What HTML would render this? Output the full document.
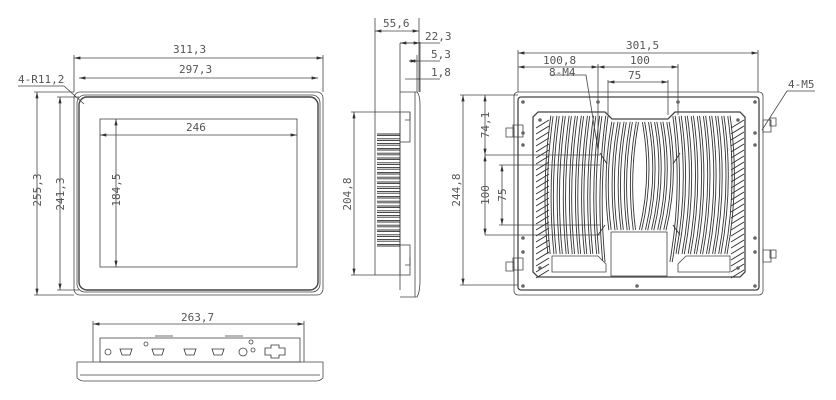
<!DOCTYPE html>
<html><head><meta charset="utf-8"><style>
html,body{margin:0;padding:0;background:#fff;}
svg{display:block;}
text{font-family:"DejaVu Sans Mono","Liberation Mono",monospace;font-size:11px;fill:#555;}
</style></head><body>
<svg id="s" width="836" height="400" viewBox="0 0 836 400" xmlns="http://www.w3.org/2000/svg">
<defs>
<marker id="a" viewBox="0 0 8 4" refX="8" refY="2" markerWidth="8" markerHeight="4" orient="auto-start-reverse"><path d="M0,0L8,2L0,4z" fill="#333"/></marker>
</defs>
<g id="f" fill="none" stroke="#333" stroke-width="3.2"></g>
<g id="fw" fill="none" stroke="#fff" stroke-width="1.4"></g>
<g fill="none" stroke="#444" stroke-width="0.8">
<!-- FRONT VIEW -->
<rect x="74" y="92" width="249" height="203" rx="6"/>
<rect x="77" y="95" width="243" height="197" rx="8"/>
<rect x="79" y="97" width="239" height="193" rx="8" stroke-width="1.4"/>
<rect x="100" y="119" width="197" height="148"/>
<line x1="74" y1="55" x2="74" y2="92"/><line x1="323" y1="55" x2="323" y2="92"/>
<line x1="74" y1="58" x2="323" y2="58" marker-start="url(#a)" marker-end="url(#a)"/>
<line x1="79" y1="78" x2="318" y2="78" marker-start="url(#a)" marker-end="url(#a)"/>
<line x1="100" y1="135" x2="297" y2="135" marker-start="url(#a)" marker-end="url(#a)"/>
<line x1="34" y1="92" x2="74" y2="92"/><line x1="34" y1="295" x2="74" y2="295"/>
<line x1="37" y1="92" x2="37" y2="295" marker-start="url(#a)" marker-end="url(#a)"/>
<line x1="57" y1="97" x2="79" y2="97"/><line x1="57" y1="290" x2="79" y2="290"/>
<line x1="60" y1="97" x2="60" y2="290" marker-start="url(#a)" marker-end="url(#a)"/>
<line x1="116" y1="119" x2="116" y2="267" marker-start="url(#a)" marker-end="url(#a)"/>
<polyline points="18,86 64,86 84,104"/>
<!-- SIDE VIEW -->
<rect x="375" y="112" width="25" height="163"/>
<line x1="400" y1="43" x2="400" y2="290"/>
<path d="M400,92 L417,92 Q420,95 420,105 L420,280 Q420,292 417,297 L400,297"/>
<line x1="415" y1="92" x2="415" y2="297"/>
<rect x="400" y="112" width="10" height="30"/><rect x="400" y="245" width="10" height="30"/>
<path d="M405,120h5v-8M405,265h5v-8"/>
<line x1="375" y1="18" x2="375" y2="112"/><line x1="419" y1="18" x2="419" y2="92"/>
<line x1="375" y1="31" x2="419" y2="31" marker-start="url(#a)" marker-end="url(#a)"/>
<line x1="400" y1="43" x2="440" y2="43"/><line x1="400" y1="43" x2="420" y2="43" marker-start="url(#a)" marker-end="url(#a)"/>
<line x1="409" y1="61" x2="440" y2="61"/><line x1="409" y1="61" x2="417" y2="61" marker-start="url(#a)" marker-end="url(#a)"/>
<line x1="405" y1="79" x2="440" y2="79"/><line x1="417" y1="79" x2="420" y2="79"/>
<line x1="417" y1="55" x2="417" y2="92"/><line x1="420" y1="42" x2="420" y2="92"/>
<line x1="351" y1="112" x2="375" y2="112"/><line x1="351" y1="275" x2="375" y2="275"/>
<line x1="354" y1="112" x2="354" y2="275" marker-start="url(#a)" marker-end="url(#a)"/>
<!-- BACK VIEW -->
<rect x="514" y="92" width="249" height="203" rx="4"/>
<rect x="518" y="97" width="241" height="193" rx="3" stroke-width="1.3"/>
<path d="M538,112 L605,112 L612,119 L668,119 L675,112 L740,112 L745,117 L745,272 L740,277 L538,277 L533,272 L533,117 Z" stroke-width="1.3"/>
<rect x="611" y="232" width="56" height="44" fill="#fff"/>
<path d="M552,256 L598,256 L606,264 L606,272 L590,272 L552,272 Z" fill="#fff"/>
<path d="M730,256 L686,256 L678,264 L678,272 L696,272 L730,272 Z" fill="#fff"/>
<line x1="518" y1="50" x2="518" y2="92"/><line x1="758" y1="50" x2="758" y2="92"/>
<line x1="518" y1="53" x2="758" y2="53" marker-start="url(#a)" marker-end="url(#a)"/>
<line x1="518" y1="67" x2="598" y2="67" marker-start="url(#a)" marker-end="url(#a)"/>
<line x1="598" y1="67" x2="678" y2="67" marker-start="url(#a)" marker-end="url(#a)"/>
<line x1="598" y1="64" x2="598" y2="155"/><line x1="678" y1="64" x2="678" y2="115"/>
<line x1="608" y1="82" x2="668" y2="82" marker-start="url(#a)" marker-end="url(#a)"/>
<line x1="608" y1="80" x2="608" y2="115"/><line x1="668" y1="80" x2="668" y2="115"/>
<line x1="460" y1="95" x2="518" y2="95"/><line x1="460" y1="285" x2="518" y2="285"/>
<line x1="463" y1="95" x2="463" y2="285" marker-start="url(#a)" marker-end="url(#a)"/>
<line x1="485" y1="95" x2="485" y2="155" marker-start="url(#a)" marker-end="url(#a)"/>
<line x1="485" y1="155" x2="485" y2="235" marker-start="url(#a)" marker-end="url(#a)"/>
<line x1="485" y1="155" x2="600" y2="155"/><line x1="485" y1="235" x2="600" y2="235"/>
<line x1="502" y1="165" x2="502" y2="225" marker-start="url(#a)" marker-end="url(#a)"/>
<line x1="499" y1="165" x2="600" y2="165"/><line x1="499" y1="225" x2="600" y2="225"/>
<polyline points="550,75 586,75 598,150"/>
<polyline points="815,91 787,91 762,130"/>
<!-- tabs -->
<path d="M513,125 h10 v12 h-10z M506,128 h8 v9 h-8z"/>
<path d="M513,258 h10 v12 h-10z M506,262 h8 v9 h-8z"/>
<path d="M763,120 h8 v12 h-8z M770,118 h6 v8 h-6z"/>
<path d="M763,250 h8 v12 h-8z M770,250 h6 v8 h-6z"/>
<!-- BOTTOM VIEW -->
<rect x="100" y="338" width="200" height="24"/>
<path d="M77,362 L323,362 L323,378 Q320,381 316,381 L84,381 Q80,381 77,378 Z"/>
<line x1="80" y1="375" x2="320" y2="375"/>
<line x1="93" y1="321" x2="93" y2="362"/><line x1="304" y1="321" x2="304" y2="362"/>
<line x1="93" y1="324" x2="304" y2="324" marker-start="url(#a)" marker-end="url(#a)"/>
<path d="M155,336h18M225,336h18"/>
<circle cx="108" cy="352" r="3"/><circle cx="243" cy="352" r="4"/><circle cx="253" cy="350" r="2"/>
<circle cx="146" cy="344" r="2"/><circle cx="251" cy="342" r="2"/>
</g>
<g id="sf" fill="none" stroke="#333" stroke-width="0.9"></g>
<g id="h" fill="none" stroke="#333" stroke-width="1"></g>
<g id="d" fill="#666"></g>
<g fill="none" stroke="#333" stroke-width="0.8">
<path d="M120,349h12l-2,6h-8z M152,349h12l-2,6h-8z M184,349h12l-2,6h-8z M212,349h12l-2,6h-8z"/>
<path d="M265,348h6v-3h8v3h6v7h-6v3h-8v-3h-6z"/>
</g>
<g>
<text x="173" y="53">311,3</text>
<text x="179" y="73">297,3</text>
<text x="186" y="131">246</text>
<text x="18" y="83">4-R11,2</text>
<text transform="translate(41,190) rotate(-90)" text-anchor="middle">255,3</text>
<text transform="translate(64,194) rotate(-90)" text-anchor="middle">241,3</text>
<text transform="translate(120,190) rotate(-90)" text-anchor="middle">184,5</text>
<text x="383" y="27">55,6</text>
<text x="425" y="40">22,3</text>
<text x="431" y="58">5,3</text>
<text x="431" y="76">1,8</text>
<text transform="translate(351,194) rotate(-90)" text-anchor="middle">204,8</text>
<text x="626" y="49">301,5</text>
<text x="543" y="64">100,8</text>
<text x="630" y="64">100</text>
<text x="628" y="79">75</text>
<text x="549" y="76">8-M4</text>
<text x="788" y="88">4-M5</text>
<text transform="translate(460,190) rotate(-90)" text-anchor="middle">244,8</text>
<text transform="translate(489,125) rotate(-90)" text-anchor="middle">74,1</text>
<text transform="translate(489,195) rotate(-90)" text-anchor="middle">100</text>
<text transform="translate(506,195) rotate(-90)" text-anchor="middle">75</text>
<text x="181" y="321">263,7</text>
</g>
</svg>
<script>
var ns="http://www.w3.org/2000/svg",f=document.getElementById('f'),fw=document.getElementById('fw'),h=document.getElementById('h'),d=document.getElementById('d'),sf=document.getElementById('sf');
function p(g,dd){var e=document.createElementNS(ns,'path');e.setAttribute('d',dd);g.appendChild(e);}
for(var i=0;i<30;i++){var x=552+i*6.1;var b=(x<639?-10:10);var y0=(x>608&&x<670)?122:116;var y1=(x>608&&x<670)?230:(x<606||x>678?254:262);
var dd='M'+x+','+y0+' Q'+(x+b)+','+((y0+y1)/2)+' '+(x-3)+','+y1;p(f,dd);p(fw,dd);}
for(var j=0;j<26;j++){var y=120+j*6;p(h,'M536,'+(y+8)+' L549,'+y);p(h,'M731,'+(y+8)+' L744,'+y);}
for(var k=0;k<24;k++){var yy=134+k*4.8;p(sf,'M377,'+yy+' L400,'+yy);p(sf,'M377,'+(yy+1.6)+' L400,'+(yy+1.6));}
[[523,102],[598,102],[678,102],[755,102],[523,286],[637,286],[755,286],[523,133],[523,145],[523,238],[523,252],[755,133],[755,145],[755,238],[755,252],[540,120],[738,120],[540,268],[738,268]].forEach(function(c){var e=document.createElementNS(ns,'circle');e.setAttribute('cx',c[0]);e.setAttribute('cy',c[1]);e.setAttribute('r',1.8);d.appendChild(e);});
[[600,153,607,164],[680,153,673,164],[605,225,598,235],[673,225,680,235]].forEach(function(c){p(sf,'M'+c[0]+','+c[1]+' L'+c[2]+','+c[3]);});
</script>
</body></html>
